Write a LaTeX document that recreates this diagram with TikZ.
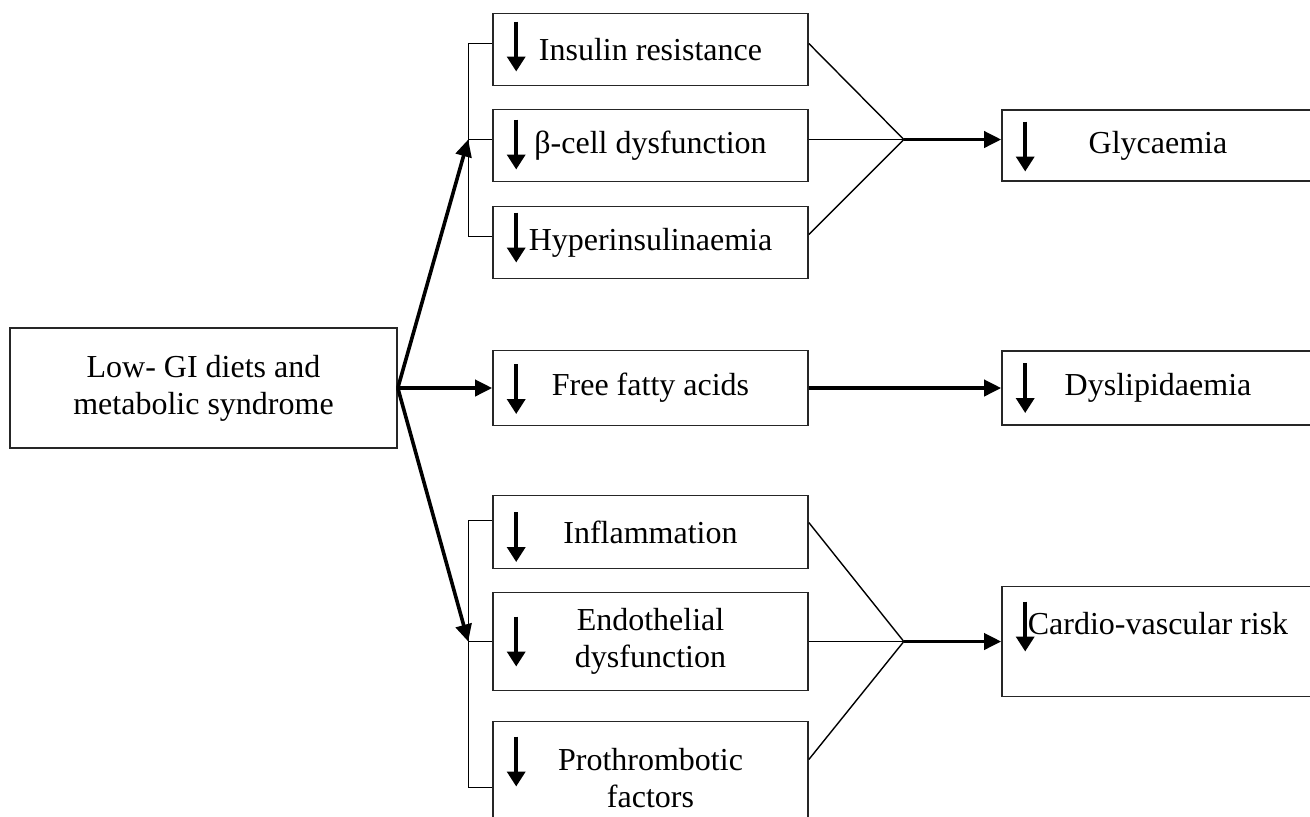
\documentclass[tikz,border=0pt]{standalone}
\usepackage{fontspec}
\setmainfont{Liberation Serif}
\usetikzlibrary{positioning,arrows.meta}
\begin{document}
\begin{tikzpicture}[x=0.5pt, y=-0.5pt, node distance=50pt, font=\fontsize{16pt}{18.5pt}\selectfont]

  % Definitions
  \tikzstyle{main} = [rectangle, minimum width=193.5pt, minimum height=60pt, text centered, align=center, draw=black!85, line width=0.8pt]
  \tikzstyle{cause} = [rectangle, minimum width=157.5pt, minimum height=36pt, text centered, align=center, draw=black!85, line width=0.8pt]
  \tikzstyle{effect} = [rectangle, minimum width=156pt, minimum height=35.5pt, text centered, align=center, draw=black!85, line width=0.8pt]
  \tikzstyle{down} = [line width=1.8pt, -{Triangle[width=9pt,length=7.5pt]}]
  \tikzstyle{arrow} = [line width=1.8pt, -{Triangle[width=8pt,length=8.5pt]}]
  \tikzstyle{link} = [line width=0.7pt]

  \useasboundingbox (0,0) rectangle (1310,816);
  \clip (0,0) rectangle (1310,816);

  \node (main) [main] at (203.5,388) {Low- GI diets and\\metabolic syndrome};
  \node (ffa) [cause, right of=main, xshift=173.5pt, minimum height=37.5pt] {Free fatty acids};
  \node (ins) [cause, above of=ffa, yshift=119.25pt] {Insulin resistance};
  \node (beta) [cause, below of=ins, yshift=2pt] {β-cell dysfunction};
  \node (hyper) [cause, below of=beta, yshift=1.5pt] {Hyperinsulinaemia};
  \node (infl) [cause, below of=ffa, yshift=-22pt, minimum height=36.5pt] {Inflammation};
  \node (endo) [cause, below of=infl, yshift=-4.75pt, minimum height=49pt] {Endothelial\\dysfunction};
  \node (pro) [cause, below of=endo, yshift=-18.5pt, minimum height=57pt] {Prothrombotic\\factors};
  \node (glyc) [effect, right of=beta, xshift=203.75pt] {Glycaemia};
  \node (dysl) [effect, right of=ffa, xshift=203.75pt, minimum height=37pt] {Dyslipidaemia};
  \node (cvr) [effect, right of=endo, xshift=203.75pt, minimum height=55pt] {Cardio-vascular risk\\\mbox{}};

  % brackets
  \coordinate (up) at ([xshift=-12pt,yshift=3pt]beta.west);
  \coordinate (dn) at ([xshift=-12pt]endo.west);
  \draw [link] ([yshift=3pt]ins.west) -| ([xshift=-12pt,yshift=3pt]hyper.west) -- ([yshift=3pt]hyper.west);
  \draw [link] (up) -- ([yshift=3pt]beta.west);
  \draw [link] ([yshift=5.75pt]infl.west) -| ([xshift=-12pt,yshift=-4.5pt]pro.west) -- ([yshift=-4.5pt]pro.west);
  \draw [link] (dn) -- (endo.west);

  \draw [arrow] (main.east) -- (up);
  \draw [arrow] (main.east) -- (ffa.west);
  \draw [arrow] (main.east) -- (dn);

  % converging lines
  \coordinate (g) at ([xshift=47.5pt,yshift=3pt]beta.east);
  \coordinate (c) at ([xshift=47.5pt]endo.east);
  \draw [link] ([yshift=3pt]ins.east) -- (g);
  \draw [link] ([yshift=3pt]beta.east) -- (g);
  \draw [link] ([yshift=4pt]hyper.east) -- (g);
  \draw [link] ([yshift=4.75pt]infl.east) -- (c);
  \draw [link] (endo.east) -- (c);
  \draw [link] ([yshift=9.5pt]pro.east) -- (c);

  \draw [arrow] (g) -- (g -| glyc.west);
  \draw [arrow] (ffa.east) -- (dysl.west);
  \draw [arrow] (c) -- (c -| cvr.west);

  % decrease arrows
  \draw [down] ([xshift=12pt,yshift=14pt]ins.west) -- ++(0,-25pt);
  \draw [down] ([xshift=12pt,yshift=13pt]beta.west) -- ++(0,-25pt);
  \draw [down] ([xshift=12pt,yshift=15pt]hyper.west) -- ++(0,-25pt);
  \draw [down] ([xshift=12pt,yshift=12pt]ffa.west) -- ++(0,-25pt);
  \draw [down] ([xshift=12pt,yshift=10pt]infl.west) -- ++(0,-25pt);
  \draw [down] ([xshift=12pt,yshift=12.5pt]endo.west) -- ++(0,-25pt);
  \draw [down] ([xshift=12pt,yshift=21pt]pro.west) -- ++(0,-25pt);
  \draw [down] ([xshift=12pt,yshift=12pt]glyc.west) -- ++(0,-25pt);
  \draw [down] ([xshift=12pt,yshift=12.5pt]dysl.west) -- ++(0,-25pt);
  \draw [down] ([xshift=12pt,yshift=20pt]cvr.west) -- ++(0,-25pt);

\end{tikzpicture}
\end{document}
